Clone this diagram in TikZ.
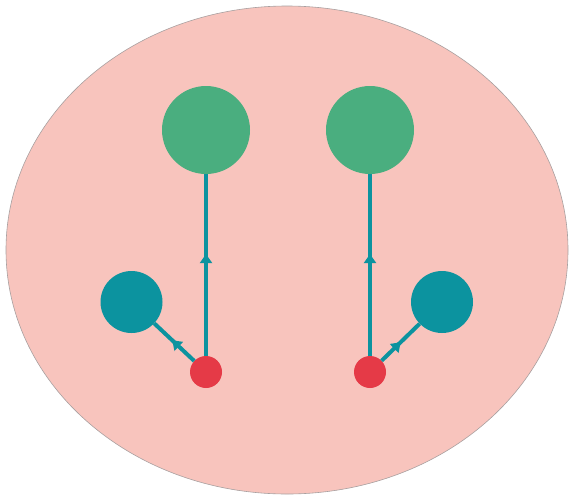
\documentclass[tikz,border=0pt]{standalone}
\usetikzlibrary{arrows.meta,decorations.markings,shapes.geometric}
\definecolor{bgpink}{HTML}{F8C4BD}
\definecolor{rimgrey}{HTML}{A8A0A0}
\definecolor{leafgreen}{HTML}{4AAE7F}
\definecolor{tealblue}{HTML}{0C939F}
\definecolor{rootred}{HTML}{E53A47}
\tikzset{
  dot/.style={circle, inner sep=0pt, draw=none},
  big/.style={dot, fill=leafgreen, minimum size=88pt},
  mid/.style={dot, fill=tealblue, minimum size=62pt},
  small/.style={dot, fill=rootred, minimum size=32pt},
  link/.style={draw=tealblue, line width=4pt,
    postaction={decorate},
    decoration={markings, mark=at position #1 with {\arrow{Triangle[width=12pt,length=9pt]}}}},
  link/.default=0.5
}
\begin{document}
\begin{tikzpicture}[x=1pt,y=-1pt]
  \useasboundingbox (0,0) rectangle (569,496);
  \node[ellipse, draw=rimgrey, line width=0.6pt, fill=bgpink, minimum width=562pt, minimum height=488pt, inner sep=0pt] (bg) at (287,250) {};
  % left group
  \node[big] (g1) at (206,130) {};
  \node[mid] (t1) at (131.5,302) {};
  \node[small] (r1) at (206,372) {};
  % right group
  \node[big] (g2) at (370,130) {};
  \node[mid] (t2) at (442,302) {};
  \node[small] (r2) at (370,372) {};
  % stems from each red root
  \path[link=0.56] (r1) -- (g1);
  \path[link=0.55] (r1) -- (t1);
  \path[link=0.56] (r2) -- (g2);
  \path[link=0.5] (r2) -- (t2);
\end{tikzpicture}
\end{document}
